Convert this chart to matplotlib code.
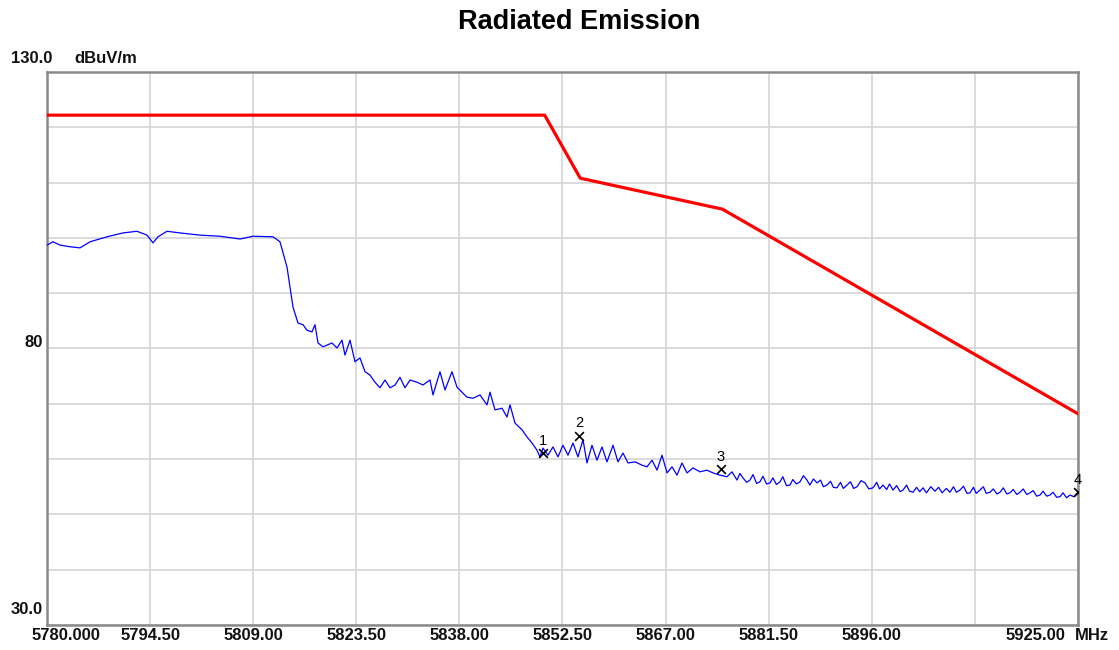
import numpy as np
import matplotlib.pyplot as plt
from matplotlib.transforms import blended_transform_factory

# limit line (dBuV/m)
limit_f = [5780.0, 5850.0, 5855.0, 5875.0, 5925.0]
limit_db = [122.2, 122.2, 110.8, 105.2, 68.2]

trace_f = [5780.00, 5780.84, 5781.83, 5783.23, 5784.64, 5786.05, 5788.44, 5790.69, 5792.66, 5794.07,
           5794.91, 5795.61, 5796.88, 5798.71, 5801.52, 5804.33, 5807.15, 5808.97, 5811.79, 5812.77,
           5813.76, 5814.60, 5815.30, 5816.01, 5816.57, 5817.27, 5817.69, 5818.12, 5818.82, 5820.08,
           5820.79, 5821.49, 5821.91, 5822.62, 5823.32, 5824.02, 5824.73, 5825.43, 5826.13, 5826.84,
           5827.54, 5828.24, 5828.95, 5829.65, 5830.35, 5831.06, 5832.04, 5832.88, 5833.87, 5834.29,
           5835.27, 5835.98, 5836.96, 5837.67, 5838.37, 5839.07, 5839.92, 5840.90, 5841.89, 5842.31,
           5843.01, 5844.00, 5844.70, 5845.12, 5845.83, 5846.81, 5847.51, 5848.22, 5848.92, 5849.34,
           5849.76, 5850.46, 5851.17, 5851.87, 5852.57, 5853.28, 5853.98, 5854.68, 5855.39, 5855.95,
           5856.65, 5857.36, 5858.06, 5858.76, 5859.61, 5860.31, 5861.01, 5861.72, 5862.70, 5863.69,
           5864.39, 5865.10, 5865.80, 5866.50, 5867.21, 5867.91, 5868.61, 5869.31, 5870.02, 5870.86,
           5871.84, 5872.83, 5873.67, 5874.66, 5875.64, 5876.34,
           5877.05, 5877.45, 5877.89, 5878.40, 5878.87, 5879.30, 5879.80, 5880.28, 5880.70, 5881.20,
           5881.69, 5882.10, 5882.60, 5883.09, 5883.50, 5884.00, 5884.50, 5884.90, 5885.40, 5885.91,
           5886.40, 5886.89, 5887.30, 5887.80, 5888.30, 5888.80, 5889.20, 5889.71, 5890.20, 5890.60,
           5891.11, 5891.60, 5892.00, 5892.52, 5893.00, 5893.45, 5893.93, 5894.50, 5895.05, 5895.60,
           5896.18, 5896.70, 5897.10, 5897.58, 5898.10, 5898.50, 5898.99, 5899.50, 5900.00, 5900.40,
           5900.90, 5901.30, 5901.80, 5902.30, 5902.75, 5903.21, 5903.70, 5904.30, 5904.90, 5905.40,
           5905.90, 5906.50, 5907.00, 5907.50, 5907.90, 5908.41, 5908.90, 5909.40, 5909.82, 5910.30,
           5910.70, 5911.22, 5911.70, 5912.10, 5912.63, 5913.10, 5913.60, 5914.04, 5914.50, 5915.00,
           5915.44, 5915.90, 5916.40, 5916.85, 5917.30, 5917.80, 5918.26, 5918.70, 5919.20, 5919.67,
           5920.10, 5920.60, 5921.07, 5921.50, 5922.00, 5922.48, 5922.90, 5923.40, 5923.88, 5924.40,
           5925.00]
trace_db = [98.7, 99.3, 98.7, 98.4, 98.2, 99.3, 100.2, 100.9, 101.2, 100.5,
            99.1, 100.2, 101.2, 100.9, 100.5, 100.3, 99.8, 100.3, 100.2, 99.3,
            94.7, 87.5, 84.6, 84.3, 83.3, 83.0, 84.3, 81.0, 80.3, 81.0,
            80.1, 81.5, 78.8, 81.5, 77.6, 78.3, 75.8, 75.2, 73.9, 72.9,
            74.3, 72.9, 73.4, 74.8, 72.9, 74.3, 73.9, 73.4, 74.3, 71.6,
            75.8, 72.5, 75.8, 73.0, 72.1, 71.2, 71.0, 71.6, 69.8, 72.1,
            68.9, 69.2, 67.6, 69.8, 66.5, 65.3, 64.0, 62.9, 61.6, 60.4,
            62.0, 60.7, 62.2, 60.4, 62.5, 60.7, 62.9, 60.4, 63.5, 59.3,
            62.5, 59.8, 62.2, 59.5, 62.5, 59.5, 61.1, 59.3, 59.5, 58.9,
            58.6, 59.8, 58.0, 60.7, 57.5, 58.6, 57.1, 59.3, 57.5, 58.4,
            57.7, 58.0, 57.5, 57.1, 56.8, 57.7,
            56.2, 57.4, 56.6, 55.8, 56.2, 57.2, 55.6, 55.9, 56.9, 55.5,
            55.7, 56.6, 55.4, 55.9, 56.8, 55.2, 55.3, 56.3, 55.5, 55.9,
            57.0, 56.2, 55.3, 56.4, 55.7, 56.2, 55.0, 55.3, 56.0, 54.9,
            54.8, 55.8, 54.7, 55.3, 55.9, 54.7, 55.0, 56.1, 55.7, 54.6,
            54.8, 55.8, 54.6, 55.3, 54.5, 55.5, 54.4, 55.2, 54.1, 54.4,
            55.3, 54.2, 54.0, 54.9, 54.1, 54.8, 53.9, 55.0, 54.2, 54.9,
            53.9, 54.7, 54.0, 55.0, 54.0, 54.4, 55.1, 53.8, 53.9, 54.9,
            53.8, 54.4, 55.0, 53.8, 54.0, 54.6, 53.7, 54.0, 54.8, 53.7,
            53.9, 54.5, 53.6, 54.0, 54.6, 53.6, 53.9, 54.3, 53.3, 53.5,
            54.2, 53.3, 53.5, 54.0, 53.1, 53.2, 53.9, 53.0, 53.5, 53.2,
            54.0]

# markers
mark_f = [5849.8, 5854.8, 5874.8, 5925.0]
mark_db = [61.1, 64.2, 58.2, 54.0]
mark_lbl = ['1', '2', '3', '4']

xticks = [5780.0, 5794.5, 5809.0, 5823.5, 5838.0, 5852.5, 5867.0, 5881.5, 5896.0, 5910.5, 5925.0]
xtick_lbl = ['5780.000', '5794.50', '5809.00', '5823.50', '5838.00', '5852.50',
             '5867.00', '5881.50', '5896.00', '', '5925.00']
yticks = [30, 40, 50, 60, 70, 80, 90, 100, 110, 120, 130]

plt.rcParams['font.family'] = ['Liberation Sans', 'DejaVu Sans']

fig = plt.figure(figsize=(11.19, 6.5), dpi=100)
ax = fig.add_axes([0.042, 0.0385, 0.9213, 0.8507])

ax.set_xlim(5780, 5925)
ax.set_ylim(30, 130)
ax.set_xticks(xticks)
ax.set_yticks(yticks)
ax.set_xticklabels([])
ax.set_yticklabels([])
ax.tick_params(length=0)
ax.grid(True, color='#d4d4d4', linewidth=1.2)
ax.set_axisbelow(True)
for s in ax.spines.values():
    s.set_color('#8a8a8a')
    s.set_linewidth(1.8)

ax.plot(limit_f, limit_db, color='#ff0000', linewidth=2.3, zorder=3)
ax.plot(trace_f, trace_db, color='#0000ff', linewidth=0.9, zorder=4)

ax.scatter(mark_f, mark_db, marker='x', color='black', s=40, linewidths=1.2, zorder=5)
for f, d, t in zip(mark_f, mark_db, mark_lbl):
    ax.annotate(t, (f, d), xytext=(0, 9), textcoords='offset points',
                ha='center', va='center', fontsize=10.5, zorder=6)

# x tick labels drawn by hand to mimic the analyser layout
trans = blended_transform_factory(ax.transData, ax.transAxes)
for v, t in zip(xticks, xtick_lbl):
    if not t:
        continue
    ha, dx = 'center', 0
    if v == xticks[0]:
        ha, dx = 'left', -11
    elif v == xticks[-1]:
        ha, dx = 'right', -9
    ax.annotate(t, (v, 0), xycoords=trans, xytext=(dx, -7.5), textcoords='offset points',
                ha=ha, va='center', fontsize=12, fontweight='bold', color='#111111')
ax.annotate('MHz', (1, 0), xycoords='axes fraction', xytext=(-2, -7.5),
            textcoords='offset points', ha='left', va='center',
            fontsize=12, fontweight='bold', color='#111111')

# y labels
ytrans = blended_transform_factory(ax.transAxes, ax.transData)
ax.annotate('130.0', (0, 130), xycoords=ytrans, xytext=(4, 10), textcoords='offset points',
            ha='right', va='center', fontsize=12, fontweight='bold', color='#111111')
ax.annotate('dBuV/m', (0, 130), xycoords=ytrans, xytext=(20, 10), textcoords='offset points',
            ha='left', va='center', fontsize=12, fontweight='bold', color='#111111')
ax.annotate('80', (0, 80), xycoords=ytrans, xytext=(-3, 4), textcoords='offset points',
            ha='right', va='center', fontsize=12, fontweight='bold', color='#111111')
ax.annotate('30.0', (0, 30), xycoords=ytrans, xytext=(-3, 11), textcoords='offset points',
            ha='right', va='center', fontsize=12, fontweight='bold', color='#111111')

fig.text(0.518, 0.966, 'Radiated Emission', ha='center', va='center',
         fontsize=19.5, fontweight='bold')

fig.savefig('out.png', dpi=100, facecolor='white')
